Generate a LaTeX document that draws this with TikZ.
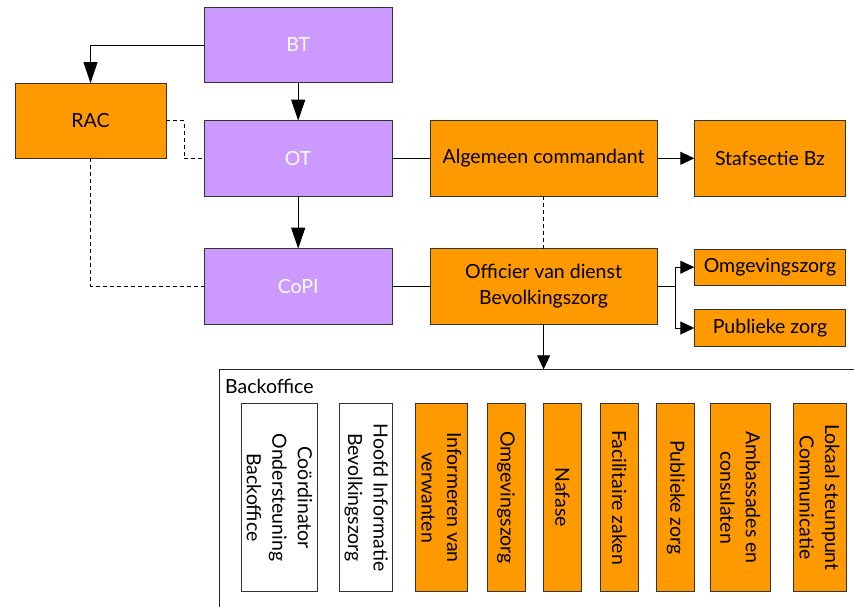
\documentclass[tikz,border=0pt]{standalone}
\usepackage{fontspec}
\setmainfont{Lato}
\usetikzlibrary{arrows.meta}
\definecolor{purp}{HTML}{CC99FF}
\definecolor{orng}{HTML}{FF9900}
\begin{document}
\begin{tikzpicture}[x=1pt,y=-1pt,
  box/.style={draw=black!80, line width=0.9pt, inner sep=0pt, outer sep=0pt, align=center, font=\fontsize{19.5}{25.5}\selectfont},
  pbox/.style={box, fill=purp, text=white, minimum width=188.3pt, minimum height=75.3pt},
  obox/.style={box, fill=orng},
  wbox/.style={box, fill=white},
  vbox/.style={rotate=-90, minimum width=188.4pt},
  con/.style={line width=0.9pt},
  bigarr/.style={con, -{Triangle[length=21pt,width=14pt]}},
  smallarr/.style={con, -{Triangle[length=14pt,width=13pt]}},
  dsh/.style={con, dash pattern=on 4pt off 3pt},
]
\useasboundingbox (0,0) rectangle (854,607);
\fill[white] (0,0) rectangle (854,607);

% top structure
\node[pbox] (BT) at (298.2,45) {BT};
\node[pbox] (OT) at (298.2,158.3) {OT};
\node[pbox] (CoPI) at (298.2,286.3) {CoPI};
\node[obox, minimum width=151pt, minimum height=75.3pt] (RAC) at (90.5,120.7) {RAC};
\node[obox, minimum width=226.7pt, minimum height=75.3pt] (AC) at (543.6,158.3) {Algemeen commandant};
\node[obox, minimum width=151.4pt, minimum height=75.3pt] (Staf) at (770,158.3) {Stafsectie Bz};
\node[obox, minimum width=226.7pt, minimum height=75.3pt] (OvD) at (543.6,286.3) {Officier van dienst\\Bevolkingszorg};
\node[obox, minimum width=151.4pt, minimum height=36.5pt] (Omg) at (770,267.2) {Omgevingszorg};
\node[obox, minimum width=151.4pt, minimum height=37.4pt] (Pub) at (770,328) {Publieke zorg};

% connectors
\draw[bigarr] (BT.west) -| (RAC.north);
\draw[bigarr] (BT.south) -- (OT.north);
\draw[bigarr] (OT.south) -- (CoPI.north);
\coordinate (racbend) at (184,120.7);
\draw[dsh] (RAC.east) -- (racbend) |- (OT.west);
\draw[dsh] (RAC.south) |- (CoPI.west);
\draw[con] (OT.east) -- (AC.west);
\draw[smallarr] (AC.east) -- (Staf.west);
\draw[dsh] (AC.south) -- (OvD.north);
\draw[con] (CoPI.east) -- (OvD.west);
\coordinate (br) at (675,286.3);
\draw[con] (OvD.east) -- (br);
\draw[smallarr] (br) |- (Omg.west);
\draw[smallarr] (br) |- (Pub.west);

% backoffice frame
\begin{scope}
\clip (0,0) rectangle (854,607);
\draw[con, draw=black!85] (219,369.3) rectangle (900,660);
\end{scope}
\coordinate (bo) at (543.6,369.3);
\draw[smallarr] (OvD.south) -- (OvD.south |- bo);
\node[anchor=base west, inner sep=0pt, font=\fontsize{19.5}{25.5}\selectfont] (BOlabel) at (225,393.3) {Backoffice};

% vertical boxes
\node[wbox, vbox, minimum height=75.6pt] (b1) at (279.5,497.5) {Coördinator\\Ondersteuning\\Backoffice};
\node[wbox, vbox, minimum height=53pt] (b2) at (366.2,497.5) {Hoofd Informatie\\Bevolkingszorg};
\node[obox, vbox, minimum height=52.7pt] (b3) at (441.3,497.5) {Informeren van\\verwanten};
\node[obox, vbox, minimum height=38pt] (b4) at (506,497.5) {Omgevingszorg};
\node[obox, vbox, minimum height=38.4pt] (b5) at (562.5,497.5) {Nafase};
\node[obox, vbox, minimum height=38pt] (b6) at (619.3,497.5) {Facilitaire zaken};
\node[obox, vbox, minimum height=38pt] (b7) at (675.7,497.5) {Publieke zorg};
\node[obox, vbox, minimum height=60.3pt] (b8) at (740.2,497.5) {Ambassades en\\consulaten};
\node[obox, vbox, minimum height=53pt] (b9) at (819.5,497.5) {Lokaal steunpunt\\Communicatie};
\end{tikzpicture}
\end{document}
